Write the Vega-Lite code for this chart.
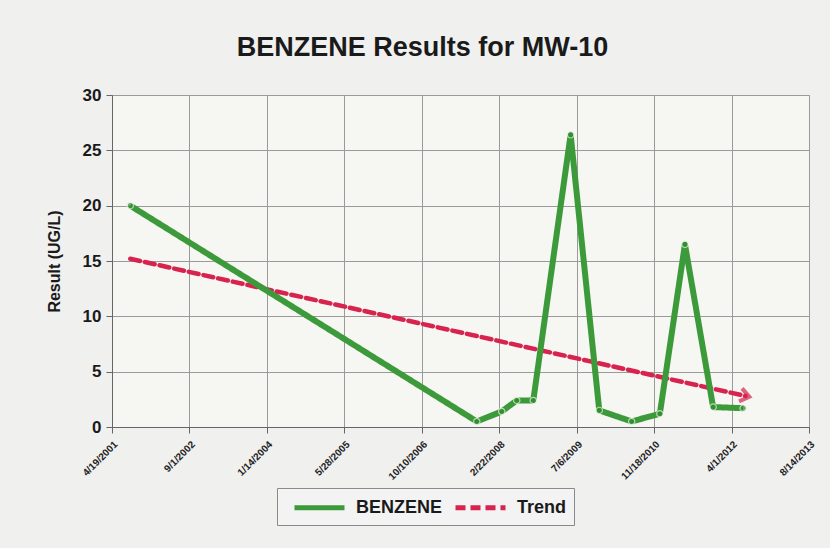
{
  "$schema": "https://vega.github.io/schema/vega-lite/v6.json",
  "autosize": {"type": "none"},
  "width": 697,
  "height": 332,
  "padding": {"left": 112, "top": 95, "right": 21, "bottom": 121},
  "background": "#f0f0ef",
  "config": {
    "font": "Liberation Sans",
    "view": {"fill": "#f6f6f2", "stroke": "#9a9a9a", "strokeWidth": 1}
  },
  "title": {
    "text": "BENZENE Results for MW-10",
    "fontSize": 27,
    "fontWeight": "bold",
    "color": "#1a1a1a",
    "anchor": "middle",
    "dx": -38,
    "offset": 24
  },
  "datasets": {
    "obs": [
      {"date": "2001-08-15T00:00", "value": 20.0, "series": "BENZENE"},
      {"date": "2007-09-30T00:00", "value": 0.5, "series": "BENZENE"},
      {"date": "2008-03-09T00:00", "value": 1.4, "series": "BENZENE"},
      {"date": "2008-06-14T00:00", "value": 2.4, "series": "BENZENE"},
      {"date": "2008-09-29T00:00", "value": 2.4, "series": "BENZENE"},
      {"date": "2009-05-28T00:00", "value": 26.4, "series": "BENZENE"},
      {"date": "2009-11-29T00:00", "value": 1.5, "series": "BENZENE"},
      {"date": "2010-06-26T00:00", "value": 0.5, "series": "BENZENE"},
      {"date": "2010-12-25T00:00", "value": 1.2, "series": "BENZENE"},
      {"date": "2011-06-05T00:00", "value": 16.5, "series": "BENZENE"},
      {"date": "2011-12-04T00:00", "value": 1.8, "series": "BENZENE"},
      {"date": "2012-06-15T00:00", "value": 1.7, "series": "BENZENE"}
    ],
    "trend": [
      {"date": "2001-08-15T00:00", "value": 15.2, "series": "Trend"},
      {"date": "2012-07-01T00:00", "value": 2.8, "series": "Trend"}
    ],
    "arrow": [
      {"date": "2012-07-01T00:00", "value": 2.8, "series": "Trend"}
    ]
  },
  "encoding": {
    "x": {
      "field": "date",
      "type": "temporal",
      "scale": {"domain": [{"year": 2001, "month": 4, "date": 19}, {"year": 2013, "month": 8, "date": 14}]},
      "axis": {
        "title": null,
        "values": [
          {"year": 2001, "month": 4, "date": 19},
          {"year": 2002, "month": 9, "date": 1},
          {"year": 2004, "month": 1, "date": 14},
          {"year": 2005, "month": 5, "date": 28},
          {"year": 2006, "month": 10, "date": 10},
          {"year": 2008, "month": 2, "date": 22},
          {"year": 2009, "month": 7, "date": 6},
          {"year": 2010, "month": 11, "date": 18},
          {"year": 2012, "month": 4, "date": 1},
          {"year": 2013, "month": 8, "date": 14}
        ],
        "format": "%-m/%-d/%Y",
        "labelAngle": -45,
        "labelAlign": "right",
        "labelBaseline": "top",
        "labelFontSize": 10,
        "labelFontWeight": "bold",
        "labelColor": "#222222",
        "labelPadding": 6,
        "tickSize": 6,
        "tickColor": "#666666",
        "domainColor": "#666666",
        "grid": true,
        "gridColor": "#9a9a9a",
        "labelFlush": false,
        "labelOverlap": false
      }
    },
    "y": {
      "field": "value",
      "type": "quantitative",
      "scale": {"domain": [0, 30], "nice": false},
      "axis": {
        "title": "Result (UG/L)",
        "titleFontSize": 16,
        "titleFontWeight": "bold",
        "titleColor": "#1a1a1a",
        "titlePadding": 20,
        "values": [0, 5, 10, 15, 20, 25, 30],
        "labelFontSize": 17,
        "labelFontWeight": "bold",
        "labelColor": "#1a1a1a",
        "labelPadding": 5,
        "tickSize": 6,
        "tickColor": "#666666",
        "domainColor": "#666666",
        "grid": true,
        "gridColor": "#9a9a9a"
      }
    }
  },
  "layer": [
    {
      "data": {"name": "trend"},
      "mark": {"type": "line", "strokeWidth": 4.5, "strokeCap": "round"},
      "encoding": {
        "color": {
          "field": "series",
          "type": "nominal",
          "scale": {"domain": ["BENZENE", "Trend"], "range": ["#3d9a3a", "#d8234e"]},
          "legend": {
            "title": null,
            "orient": "none",
            "direction": "horizontal",
            "legendX": 165,
            "legendY": 393,
            "symbolType": "M-2.5,0H2.5",
            "symbolSize": 400,
            "symbolStrokeWidth": 5,
            "symbolOffset": 23,
            "labelOffset": 24,
            "labelFontSize": 18,
            "labelFontWeight": "bold",
            "labelColor": "#1a1a1a",
            "columnPadding": 2,
            "strokeColor": "#8a8a8a",
            "fillColor": "#f3f3f3",
            "padding": 7
          }
        },
        "strokeDash": {
          "field": "series",
          "type": "nominal",
          "scale": {"domain": ["BENZENE", "Trend"], "range": [[1, 0], [10, 5]]},
          "legend": null
        }
      }
    },
    {
      "data": {"name": "arrow"},
      "mark": {
        "type": "point",
        "shape": "M-0.7,-0.9L0.5,0L-0.7,0.9",
        "filled": false,
        "size": 220,
        "angle": 13,
        "strokeWidth": 4,
        "color": "#d8234e"
      }
    },
    {
      "data": {"name": "obs"},
      "mark": {"type": "line", "strokeWidth": 6, "strokeJoin": "round"},
      "encoding": {
        "color": {"field": "series", "type": "nominal"},
        "strokeDash": {"field": "series", "type": "nominal"}
      }
    },
    {
      "data": {"name": "obs"},
      "mark": {"type": "point", "filled": true, "size": 40, "color": "#2e8b2e", "stroke": "#e8f5e0", "strokeWidth": 1.2}
    }
  ]
}
